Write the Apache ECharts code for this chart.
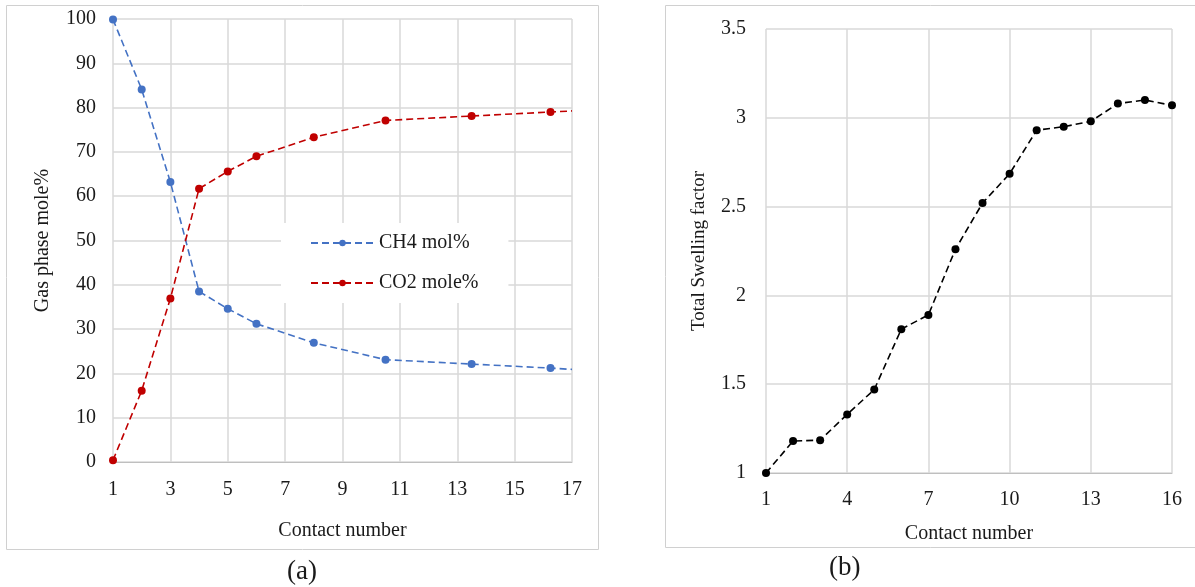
<!DOCTYPE html>
<html>
<head>
<meta charset="utf-8">
<script src="https://cdn.jsdelivr.net/npm/echarts@6/dist/echarts.min.js"></script>
<style>
  html, body { margin: 0; padding: 0; background: #fff; }
  #chart { width: 1195px; height: 587px; }
</style>
</head>
<body>
<div id="chart"></div>
<script>
// panel (a): gas phase composition per contact
const contactA = [1, 2, 3, 4, 5, 6, 8, 10.5, 13.5, 16.25, 17];
const ch4 = [99.9, 84.1, 63.2, 38.5, 34.6, 31.2, 26.9, 23.1, 22.1, 21.2, 20.9];
const co2 = [0.4, 16.1, 36.9, 61.7, 65.6, 69.0, 73.3, 77.1, 78.1, 79.0, 79.25];

// panel (b): swelling factor
const contactB = [1, 2, 3, 4, 5, 6, 7, 8, 9, 10, 11, 12, 13, 14, 15, 16];
const swelling = [1.0, 1.18, 1.185, 1.33, 1.47, 1.81, 1.89, 2.26, 2.52, 2.685, 2.93, 2.95, 2.98, 3.08, 3.10, 3.07];

const font = '"Liberation Serif", "Times New Roman", serif';
const textColor = '#1a1a1a';
const gridColor = '#d9d9d9';

const chart = echarts.init(document.getElementById('chart'));

// last point of panel (a) only carries the line to the axis end, no marker
const pairs = (xs, ys) => xs.map((x, i) => (
  i === xs.length - 1 ? { value: [x, ys[i]], symbol: 'none' } : [x, ys[i]]
));

const axisText = { color: textColor, fontFamily: font, fontSize: 20 };

chart.setOption({
  animation: false,
  textStyle: { fontFamily: font },
  graphic: [
    { type: 'rect', shape: { x: 6.5, y: 5.5, width: 592, height: 544 },
      style: { fill: 'none', stroke: '#d0d0d0', lineWidth: 1 }, z: -1 },
    { type: 'rect', shape: { x: 665.5, y: 5.5, width: 540, height: 542 },
      style: { fill: 'none', stroke: '#d0d0d0', lineWidth: 1 }, z: -1 },
    { type: 'text', left: 287, top: 558,
      style: { text: '(a)', fontFamily: font, fontSize: 27, fill: textColor } },
    { type: 'text', left: 829, top: 554,
      style: { text: '(b)', fontFamily: font, fontSize: 27, fill: textColor } }
  ],
  legend: {
    data: ['CH4 mol%', 'CO2 mole%'],
    orient: 'vertical',
    left: 281,
    top: 223,
    backgroundColor: '#fff',
    padding: [10, 30, 10, 29],
    itemWidth: 63,
    itemHeight: 8,
    itemGap: 20,
    textStyle: { color: textColor, fontFamily: font, fontSize: 20 }
  },
  grid: [
    { left: 113, right: 623, top: 19, bottom: 125 },
    { left: 766, right: 23, top: 29, bottom: 114 }
  ],
  xAxis: [
    {
      gridIndex: 0, type: 'value', min: 1, max: 17, interval: 2,
      name: 'Contact number', nameLocation: 'middle', nameGap: 59,
      nameTextStyle: axisText,
      axisLine: { lineStyle: { color: '#bfbfbf' } },
      axisTick: { show: false },
      axisLabel: Object.assign({ margin: 18 }, axisText),
      splitLine: { lineStyle: { color: gridColor, width: 1.5 } }
    },
    {
      gridIndex: 1, type: 'value', min: 1, max: 16, interval: 3,
      name: 'Contact number', nameLocation: 'middle', nameGap: 51,
      nameTextStyle: axisText,
      axisLine: { lineStyle: { color: '#bfbfbf' } },
      axisTick: { show: false },
      axisLabel: Object.assign({ margin: 17 }, axisText),
      splitLine: { lineStyle: { color: gridColor, width: 1.5 } }
    }
  ],
  yAxis: [
    {
      gridIndex: 0, type: 'value', min: 0, max: 100, interval: 10,
      name: 'Gas phase mole%', nameLocation: 'middle', nameGap: 60,
      nameTextStyle: axisText,
      axisLine: { show: false },
      axisTick: { show: false },
      axisLabel: Object.assign({ margin: 17 }, axisText),
      splitLine: { lineStyle: { color: gridColor, width: 1.5 } }
    },
    {
      gridIndex: 1, type: 'value', min: 1, max: 3.5, interval: 0.5,
      name: 'Total Swelling factor', nameLocation: 'middle', nameGap: 57,
      nameTextStyle: Object.assign({}, axisText, { fontSize: 19 }),
      axisLine: { show: false },
      axisTick: { show: false },
      axisLabel: Object.assign({ margin: 20 }, axisText),
      splitLine: { lineStyle: { color: gridColor, width: 1.5 } }
    }
  ],
  series: [
    {
      name: 'CH4 mol%', type: 'line', xAxisIndex: 0, yAxisIndex: 0,
      data: pairs(contactA, ch4),
      symbol: 'circle', symbolSize: 8,
      itemStyle: { color: '#4472c4' },
      lineStyle: { color: '#4472c4', width: 1.6, type: [7, 4] }
    },
    {
      name: 'CO2 mole%', type: 'line', xAxisIndex: 0, yAxisIndex: 0,
      data: pairs(contactA, co2),
      symbol: 'circle', symbolSize: 8,
      itemStyle: { color: '#c00000' },
      lineStyle: { color: '#c00000', width: 1.6, type: [7, 4] }
    },
    {
      name: 'Swelling', type: 'line', xAxisIndex: 1, yAxisIndex: 1,
      data: contactB.map((x, i) => [x, swelling[i]]),
      symbol: 'circle', symbolSize: 8,
      itemStyle: { color: '#000' },
      lineStyle: { color: '#000', width: 1.6, type: [7, 4] }
    }
  ]
});
</script>
</body>
</html>
